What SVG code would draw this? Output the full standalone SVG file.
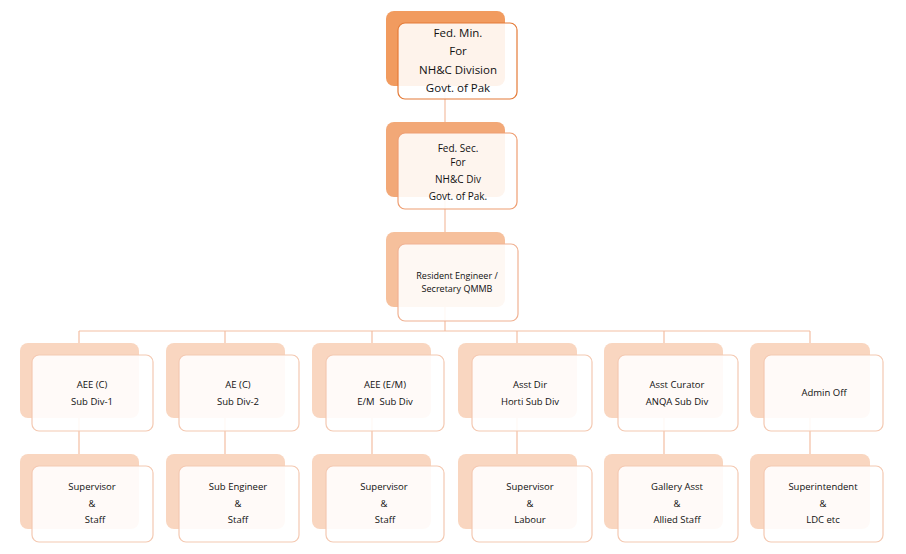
<svg xmlns="http://www.w3.org/2000/svg" width="906" height="554" viewBox="0 0 906 554">
<style>
text{font-family:"Open Sans","Liberation Sans",sans-serif;fill:#111;text-anchor:middle}
.b0{fill:#F19B5F}.b1{fill:#F2A877}.b2{fill:#F6C09C}.b3{fill:#F9D6C0}
.f{fill:#fff;fill-opacity:0.88;stroke-width:1.2}
.f0{stroke:#E47B38}.f1{stroke:#EE9E72}.f2{stroke:#F0B293}.f3{stroke:#F4C9B2}
.c{fill:none;stroke:#F3BFA3;stroke-width:1.2}
.t0{font-size:11.5px}.t1{font-size:10px}.t2{font-size:9.5px}.t3{font-size:9px}
</style>
<rect width="906" height="554" fill="#fff"/>
<g id="connectors">
<path class="c" d="M445 85V122M445 197V232M445 307V331M79 331H810M79 331V343M225 331V343M372 331V343M517 331V343M664 331V343M810 331V343"/>
<path class="c" d="M79 418V454M225 418V454M372 418V454M517 418V454M664 418V454M810 418V454"/>
</g>
<g id="n-fedmin">
<rect class="b0" x="386" y="11" width="119" height="75" rx="8"/>
<rect class="f f0" x="398" y="23" width="119" height="76" rx="7"/>
<text class="t0" x="458" y="37">Fed. Min.</text>
<text class="t0" x="458" y="55">For</text>
<text class="t0" x="458" y="74">NH&amp;C Division</text>
<text class="t0" x="458" y="92">Govt. of Pak</text>
</g>
<g id="n-fedsec">
<rect class="b1" x="386" y="122" width="119" height="75" rx="8"/>
<rect class="f f1" x="398" y="133" width="119" height="76" rx="7"/>
<text class="t1" x="458" y="151.5">Fed. Sec.</text>
<text class="t1" x="458" y="165.5">For</text>
<text class="t1" x="458" y="182.5">NH&amp;C Div</text>
<text class="t1" x="458" y="199.5">Govt. of Pak.</text>
</g>
<g id="n-re">
<rect class="b2" x="386" y="232" width="119" height="75" rx="8"/>
<rect class="f f2" x="398" y="244" width="120" height="77" rx="7"/>
<text class="t3" x="457" y="279">Resident Engineer /</text>
<text class="t3" x="457" y="291.5">Secretary QMMB</text>
</g>
<g id="n-aeec">
<rect class="b3" x="20" y="343" width="119" height="75" rx="8"/>
<rect class="f f3" x="32" y="355" width="121" height="76" rx="7"/>
<text class="t2" x="92" y="387.5">AEE (C)</text>
<text class="t2" x="92" y="404.5">Sub Div-1</text>
</g>
<g id="n-aec">
<rect class="b3" x="166" y="343" width="119" height="75" rx="8"/>
<rect class="f f3" x="179" y="355" width="120" height="76" rx="7"/>
<text class="t2" x="238" y="387.5">AE (C)</text>
<text class="t2" x="238" y="404.5">Sub Div-2</text>
</g>
<g id="n-aeem">
<rect class="b3" x="312" y="343" width="119" height="75" rx="8"/>
<rect class="f f3" x="326" y="355" width="118" height="76" rx="7"/>
<text class="t2" x="385" y="387.5">AEE (E/M)</text>
<text class="t2" x="385" y="404.5" xml:space="preserve">E/M  Sub Div</text>
</g>
<g id="n-asstdir">
<rect class="b3" x="458" y="343" width="119" height="75" rx="8"/>
<rect class="f f3" x="472" y="355" width="120" height="76" rx="7"/>
<text class="t2" x="530" y="387.5">Asst Dir</text>
<text class="t2" x="530" y="404.5">Horti Sub Div</text>
</g>
<g id="n-curator">
<rect class="b3" x="604" y="343" width="119" height="75" rx="8"/>
<rect class="f f3" x="618" y="355" width="120" height="76" rx="7"/>
<text class="t2" x="677" y="387.5">Asst Curator</text>
<text class="t2" x="677" y="404.5">ANQA Sub Div</text>
</g>
<g id="n-admin">
<rect class="b3" x="750" y="343" width="120" height="75" rx="8"/>
<rect class="f f3" x="764" y="355" width="119" height="76" rx="7"/>
<text class="t2" x="824" y="395.5">Admin Off</text>
</g>
<g id="n-sup1">
<rect class="b3" x="20" y="454" width="119" height="75" rx="8"/>
<rect class="f f3" x="32" y="466" width="121" height="76" rx="7"/>
<text class="t2" x="92" y="489.5">Supervisor</text>
<text class="t2" x="92" y="506.5">&amp;</text>
<text class="t2" x="95" y="522.5">Staff</text>
</g>
<g id="n-subeng">
<rect class="b3" x="166" y="454" width="119" height="75" rx="8"/>
<rect class="f f3" x="179" y="466" width="120" height="76" rx="7"/>
<text class="t2" x="238" y="489.5">Sub Engineer</text>
<text class="t2" x="238" y="506.5">&amp;</text>
<text class="t2" x="238" y="522.5">Staff</text>
</g>
<g id="n-sup3">
<rect class="b3" x="312" y="454" width="119" height="75" rx="8"/>
<rect class="f f3" x="326" y="466" width="118" height="76" rx="7"/>
<text class="t2" x="384" y="489.5">Supervisor</text>
<text class="t2" x="384" y="506.5">&amp;</text>
<text class="t2" x="385" y="522.5">Staff</text>
</g>
<g id="n-sup4">
<rect class="b3" x="458" y="454" width="119" height="75" rx="8"/>
<rect class="f f3" x="472" y="466" width="120" height="76" rx="7"/>
<text class="t2" x="530" y="489.5">Supervisor</text>
<text class="t2" x="530" y="506.5">&amp;</text>
<text class="t2" x="530" y="522.5">Labour</text>
</g>
<g id="n-gallery">
<rect class="b3" x="604" y="454" width="119" height="75" rx="8"/>
<rect class="f f3" x="618" y="466" width="120" height="76" rx="7"/>
<text class="t2" x="677" y="489.5">Gallery Asst</text>
<text class="t2" x="677" y="506.5">&amp;</text>
<text class="t2" x="677" y="522.5">Allied Staff</text>
</g>
<g id="n-supt">
<rect class="b3" x="750" y="454" width="120" height="75" rx="8"/>
<rect class="f f3" x="764" y="466" width="119" height="76" rx="7"/>
<text class="t2" x="823" y="489.5">Superintendent</text>
<text class="t2" x="823" y="506.5">&amp;</text>
<text class="t2" x="823" y="522.5">LDC etc</text>
</g>
</svg>
